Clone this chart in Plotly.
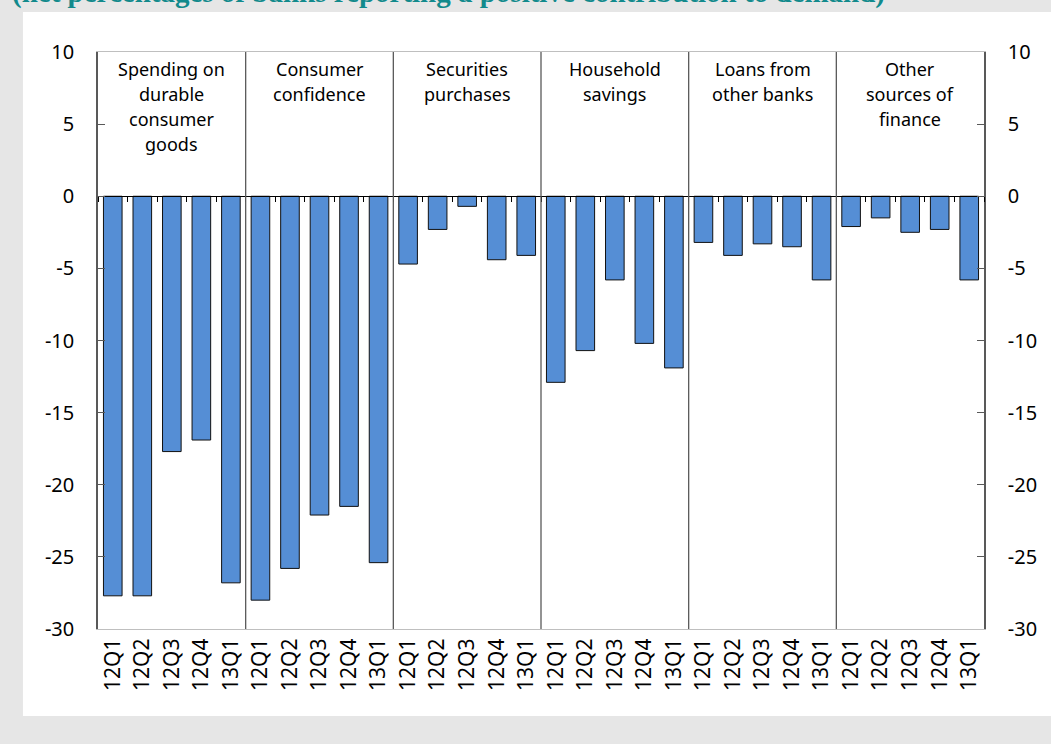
import plotly.graph_objects as go

# factors contributing to demand, net percentages
groups = ["Spending on<br>durable<br>consumer<br>goods", "Consumer<br>confidence",
          "Securities<br>purchases", "Household<br>savings", "Loans from<br>other banks",
          "Other<br>sources of<br>finance"]
quarters = ["12Q1", "12Q2", "12Q3", "12Q4", "13Q1"]

durable = [-27.7, -27.7, -17.7, -16.9, -26.8]
confidence = [-28.0, -25.8, -22.1, -21.5, -25.4]
securities = [-4.7, -2.3, -0.7, -4.4, -4.1]
savings = [-12.9, -10.7, -5.8, -10.2, -11.9]
other_banks = [-3.2, -4.1, -3.3, -3.5, -5.8]
other_finance = [-2.1, -1.5, -2.5, -2.3, -5.8]

series = [durable, confidence, securities, savings, other_banks, other_finance]

yticks = [-30, -25, -20, -15, -10, -5, 0, 5, 10]
ytick_labels = ["-30", "-25", "-20", "-15", "-10", "-5", "0", "5", "10"]

values = [v for s in series for v in s]
labels = quarters * len(series)
xpos = list(range(len(values)))

title = "(net percentages of banks reporting a positive contribution to demand)"

font_name = "Noto Sans"
axis_dark = "#595959"

fig = go.Figure()
fig.add_trace(go.Bar(
    x=xpos, y=values, width=0.63,
    marker=dict(color="#558ED5", line=dict(color="#111111", width=1)),
    showlegend=False, hoverinfo="y",
))
# empty trace so the extra axes (zero line ticks, right y axis) get drawn
fig.add_trace(go.Scatter(x=[None], y=[None], xaxis="x2", yaxis="y2",
                         showlegend=False, hoverinfo="skip"))

n = len(quarters)
shapes = [dict(type="rect", xref="paper", yref="paper",
               x0=-0.0847, x1=1.08, y0=-0.1508, y1=1.0693,
               fillcolor="white", line=dict(width=0), layer="below")]
for g in range(1, len(series)):
    shapes.append(dict(type="line", xref="x", yref="paper",
                       x0=g * n - 0.5, x1=g * n - 0.5, y0=0, y1=1,
                       line=dict(color=axis_dark, width=1.3)))

annotations = []
for g, name in enumerate(groups):
    # one annotation per line to get Excel-like line spacing
    for i, line in enumerate(name.split("<br>")):
        annotations.append(dict(x=g * n + (n - 1) / 2, y=1, xref="x", yref="paper",
                                text=line, showarrow=False, yanchor="middle",
                                yshift=-(17 + 25 * i),
                                font=dict(family=font_name, size=18, color="black")))
annotations.append(dict(x=-0.099, y=1.071, xref="paper", yref="paper", text="<b>" + title + "</b>",
                        showarrow=False, xanchor="left", yanchor="bottom",
                        font=dict(family="Liberation Serif", size=29, color="#128a8c")))

fig.update_layout(
    width=1051, height=744,
    margin=dict(l=98, r=67, t=52, b=115),
    paper_bgcolor="#e6e6e6", plot_bgcolor="white",
    bargap=0.37,
    shapes=shapes, annotations=annotations,
    xaxis=dict(range=[-0.5, len(values) - 0.5], tickvals=xpos, ticktext=labels,
               tickangle=-90, ticks="", showgrid=False, zeroline=False,
               showline=True, linecolor="#bfbfbf", linewidth=1.3, mirror=True,
               tickfont=dict(family=font_name, size=21, color="black")),
    xaxis2=dict(range=[-0.5, len(values) - 0.5], overlaying="x", anchor="free", position=0.7504,
                tickvals=[i - 0.5 for i in range(len(values) + 1)], ticks="outside",
                ticklen=5, tickcolor="black", tickwidth=1.3, showticklabels=False,
                showgrid=False, zeroline=False, showline=True, linecolor="black", linewidth=1.3),
    yaxis=dict(range=[-30, 10], tickvals=yticks, ticktext=ytick_labels, ticks="inside", ticklen=7,
               tickcolor=axis_dark, tickwidth=1.3, showgrid=False, zeroline=False,
               showline=True, linecolor=axis_dark, linewidth=1.5, ticklabelstandoff=18,
               tickfont=dict(family=font_name, size=20, color="black")),
    yaxis2=dict(range=[-30, 10], tickvals=yticks, ticktext=ytick_labels, overlaying="y",
                side="right", anchor="x",
                ticks="inside", ticklen=7, tickcolor=axis_dark, tickwidth=1.3,
                showgrid=False, zeroline=False, showline=True, linecolor=axis_dark,
                linewidth=1.5, ticklabelstandoff=18,
                tickfont=dict(family=font_name, size=20, color="black")),
)

# drop the page margin so the figure sits at the window's corner
fig.write_html("out.html", config={"displayModeBar": False},
               post_script="document.body.style.margin = '0';")
